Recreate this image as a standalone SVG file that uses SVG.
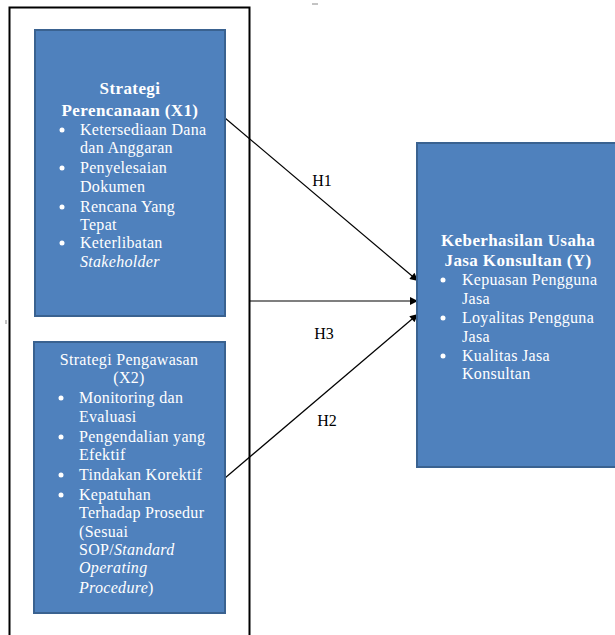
<svg xmlns="http://www.w3.org/2000/svg" width="615" height="635" viewBox="0 0 615 635">
<style>
.box{fill:#4F81BD;stroke:#3A6290;stroke-width:2}
.t{font-family:"Liberation Serif","Times New Roman",serif;fill:#fff;font-size:16px;letter-spacing:0.3px}
.b{font-weight:bold;font-size:17px;letter-spacing:0.4px}
.c{text-anchor:middle}
.i{font-style:italic}
.lbl{font-family:"Liberation Serif","Times New Roman",serif;fill:#000;font-size:16px;text-anchor:middle}
.dot{fill:#fff}
.ln{stroke:#000;stroke-width:1.2;fill:none}
</style>
<defs>
<marker id="ah" viewBox="0 0 10 10" refX="10" refY="5" markerWidth="10" markerHeight="8" markerUnits="userSpaceOnUse" orient="auto">
<path d="M0,0 L10,5 L0,10 z" fill="#000"/>
</marker>
</defs>
<rect width="615" height="635" fill="#fff"/>
<g id="frame">
<path d="M9.5,640 V7.5 H249.5 V640" fill="none" stroke="#000" stroke-width="2"/>
<line x1="312" y1="4" x2="318" y2="4" stroke="#888" stroke-width="1"/>
<line x1="6" y1="320" x2="6" y2="324" stroke="#888" stroke-width="1"/>
</g>
<g id="connectors">
<line class="ln" x1="225" y1="118" x2="418" y2="281" marker-end="url(#ah)"/>
<line class="ln" x1="250" y1="301" x2="418" y2="301" marker-end="url(#ah)"/>
<line class="ln" x1="225" y1="478" x2="418" y2="314" marker-end="url(#ah)"/>
<text class="lbl" x="322" y="186">H1</text>
<text class="lbl" x="324" y="339">H3</text>
<text class="lbl" x="327" y="426">H2</text>
</g>
<g id="x1">
<rect class="box" x="35" y="30" width="190" height="286"/>
<text class="t b c" x="130" y="94">Strategi</text>
<text class="t b c" x="130" y="116">Perencanaan (X1)</text>
<circle class="dot" cx="62" cy="130" r="2.5"/>
<circle class="dot" cx="62" cy="168" r="2.5"/>
<circle class="dot" cx="62" cy="207" r="2.5"/>
<circle class="dot" cx="62" cy="243" r="2.5"/>
<text class="t" x="80" y="135">Ketersediaan Dana</text>
<text class="t" x="80" y="153">dan Anggaran</text>
<text class="t" x="80" y="173">Penyelesaian</text>
<text class="t" x="80" y="192">Dokumen</text>
<text class="t" x="80" y="212">Rencana Yang</text>
<text class="t" x="80" y="230">Tepat</text>
<text class="t" x="80" y="248">Keterlibatan</text>
<text class="t i" x="80" y="267">Stakeholder</text>
</g>
<g id="x2">
<rect class="box" x="34" y="342" width="191" height="271"/>
<text class="t c" x="129" y="365">Strategi Pengawasan</text>
<text class="t c" x="129" y="383">(X2)</text>
<circle class="dot" cx="61" cy="398" r="2.5"/>
<circle class="dot" cx="61" cy="437" r="2.5"/>
<circle class="dot" cx="61" cy="475" r="2.5"/>
<circle class="dot" cx="61" cy="495" r="2.5"/>
<text class="t" x="79" y="403">Monitoring dan</text>
<text class="t" x="79" y="422">Evaluasi</text>
<text class="t" x="79" y="442">Pengendalian yang</text>
<text class="t" x="79" y="460">Efektif</text>
<text class="t" x="79" y="480">Tindakan Korektif</text>
<text class="t" x="79" y="500">Kepatuhan</text>
<text class="t" x="79" y="518">Terhadap Prosedur</text>
<text class="t" x="79" y="537">(Sesuai</text>
<text class="t" x="79" y="555">SOP/<tspan class="i">Standard</tspan></text>
<text class="t i" x="79" y="573">Operating</text>
<text class="t" x="79" y="593"><tspan class="i">Procedure</tspan>)</text>
</g>
<g id="y">
<rect class="box" x="417" y="143" width="205" height="324"/>
<text class="t b c" x="518" y="246">Keberhasilan Usaha</text>
<text class="t b c" x="518" y="266">Jasa Konsultan (Y)</text>
<circle class="dot" cx="443" cy="280" r="2.5"/>
<circle class="dot" cx="443" cy="318" r="2.5"/>
<circle class="dot" cx="443" cy="356" r="2.5"/>
<text class="t" x="462" y="285">Kepuasan Pengguna</text>
<text class="t" x="462" y="304">Jasa</text>
<text class="t" x="462" y="323">Loyalitas Pengguna</text>
<text class="t" x="462" y="342">Jasa</text>
<text class="t" x="462" y="361">Kualitas Jasa</text>
<text class="t" x="462" y="379">Konsultan</text>
</g>
</svg>
